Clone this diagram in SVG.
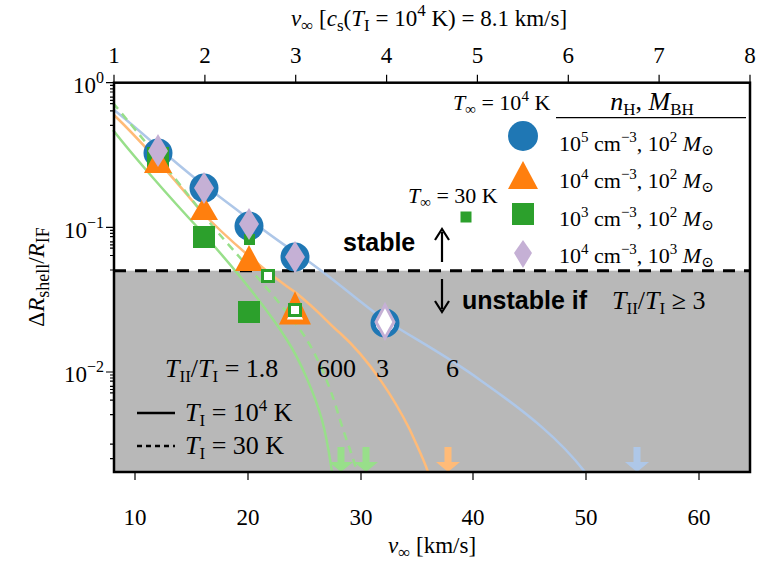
<svg xmlns="http://www.w3.org/2000/svg" width="763" height="564" viewBox="0 0 763 564">
<style>
.t{font-family:"Liberation Serif","DejaVu Serif",serif;font-size:23px;fill:#000}
.m{font-family:"Liberation Serif","DejaVu Serif",serif;font-size:22px;fill:#000}
.big{font-size:26px}
.i{font-style:italic}
.b{font-family:"Liberation Sans","DejaVu Sans",sans-serif;font-weight:bold;font-size:25px}
.ax{stroke:#000;stroke-width:1.2}
.curve{fill:none;stroke-width:2.5}
</style>
<rect width="763" height="564" fill="#fff"/>
<rect x="114" y="270.7" width="636" height="201.3" fill="#b8b8b8"/>
<g id="connectors">
<path class="curve" stroke="#aec7e8" d="M114,110 C140,130 180,168 204,185 C240,212 270,236 295,252 C330,275 360,303 385,320 C420,342 450,358 480,380 C530,415 560,440 585,472"/>
<path class="curve" stroke="#ffbb78" d="M114,115 C140,140 175,180 200,210 C225,237 270,275 295,292 C320,312 330,325 340,333 C370,360 395,400 410,430 C418,448 424,460 428,472"/>
<path class="curve" stroke="#98df8a" d="M113,130 C130,152 170,198 200,230 C225,258 265,305 287,340 C300,360 315,395 322,420 C328,442 330,460 332,472"/>
<path class="curve" stroke="#98df8a" stroke-dasharray="8,6" d="M113,103 C140,135 185,190 210,223 C230,248 285,305 307,340 C322,365 333,395 340,420 C348,445 354,460 357,472"/>
<g id="arrows">
<path fill="#98df8a" d="M337.5,447h7v15h8.5l-12,10l-12,-10h8.5z"/>
<path fill="#98df8a" d="M362.5,447h7v15h8.5l-12,10l-12,-10h8.5z"/>
<path fill="#ffbb78" d="M444.5,447h7v15h8.5l-12,10l-12,-10h8.5z"/>
<path fill="#aec7e8" d="M633.5,447h7v15h8.5l-12,10l-12,-10h8.5z"/>
</g>
<line x1="114" y1="270.7" x2="750" y2="270.7" stroke="#000" stroke-width="3" stroke-dasharray="12,9"/>
</g>
<g id="markers">
<g fill="#1f77b4"><circle cx="158" cy="153" r="14.5"/><circle cx="204" cy="188" r="14.5"/><circle cx="249" cy="226" r="14.5"/><circle cx="295" cy="257" r="14.5"/></g>
<circle cx="385" cy="323" r="12" fill="#fff" stroke="#1f77b4" stroke-width="5"/>
<g fill="#2ca02c"><rect x="147" y="147" width="22" height="22"/><rect x="193" y="226" width="22" height="22"/><rect x="238" y="301" width="22" height="22"/><rect x="244" y="234" width="11" height="11"/></g>
<g fill="#ff7f0e"><polygon points="158,147 144,173 172,173"/><polygon points="204,196 190,220 218,220"/><polygon points="249,245 235,271 263,271"/></g>
<polygon points="295,297 283,322 307,322" fill="#fff" stroke="#ff7f0e" stroke-width="5"/>
<rect x="262.5" y="270.5" width="11" height="11" fill="#fff" stroke="#2ca02c" stroke-width="3"/>
<rect x="289.5" y="304.5" width="11" height="11" fill="#fff" stroke="#2ca02c" stroke-width="3"/>
<g fill="#c5b0d5"><polygon points="158,134 168,151 158,167 148,151"/><polygon points="204,172 214,188 204,204 194,188"/><polygon points="249,208 259,224 249,240 239,224"/><polygon points="295,241 305,257 295,273 285,257"/></g>
<polygon points="385,305 394,322 385,338 376,322" fill="#fff" stroke="#c5b0d5" stroke-width="3"/>
</g>
<g id="legend">
<text class="m" x="453" y="110"><tspan class="i">T</tspan><tspan font-size="15" dy="4">∞</tspan><tspan dy="-4"> = 10</tspan><tspan font-size="15" dy="-9">4</tspan><tspan dy="9"> K</tspan></text>
<text class="t big" x="652" y="110" text-anchor="middle"><tspan class="i">n</tspan><tspan font-size="17" dy="5">H</tspan><tspan dy="-5">, </tspan><tspan class="i">M</tspan><tspan font-size="17" dy="5">BH</tspan></text>
<line x1="556" y1="117.7" x2="746" y2="117.7" stroke="#000" stroke-width="1.3"/>
<circle cx="523" cy="136" r="15" fill="#1f77b4"/>
<polygon points="523,161 508,189 538,189" fill="#ff7f0e"/>
<rect x="512" y="203" width="22" height="22" fill="#2ca02c"/>
<polygon points="523,240 532,253 523,268 514,253" fill="#c5b0d5"/>
<rect x="460.5" y="211.5" width="11" height="11" fill="#2ca02c"/>
<text class="m" x="408" y="203"><tspan class="i">T</tspan><tspan font-size="15" dy="4">∞</tspan><tspan dy="-4"> = 30 K</tspan></text>
<text class="m" x="559" y="151">10<tspan font-size="15" dy="-9">5</tspan><tspan dy="9"> cm</tspan><tspan font-size="15" dy="-9">−3</tspan><tspan dy="9">, 10</tspan><tspan font-size="15" dy="-9">2</tspan><tspan dy="9"> </tspan><tspan class="i">M</tspan><tspan font-size="15" dy="4">⊙</tspan></text>
<text class="m" x="559" y="188">10<tspan font-size="15" dy="-9">4</tspan><tspan dy="9"> cm</tspan><tspan font-size="15" dy="-9">−3</tspan><tspan dy="9">, 10</tspan><tspan font-size="15" dy="-9">2</tspan><tspan dy="9"> </tspan><tspan class="i">M</tspan><tspan font-size="15" dy="4">⊙</tspan></text>
<text class="m" x="559" y="226">10<tspan font-size="15" dy="-9">3</tspan><tspan dy="9"> cm</tspan><tspan font-size="15" dy="-9">−3</tspan><tspan dy="9">, 10</tspan><tspan font-size="15" dy="-9">2</tspan><tspan dy="9"> </tspan><tspan class="i">M</tspan><tspan font-size="15" dy="4">⊙</tspan></text>
<text class="m" x="559" y="263">10<tspan font-size="15" dy="-9">4</tspan><tspan dy="9"> cm</tspan><tspan font-size="15" dy="-9">−3</tspan><tspan dy="9">, 10</tspan><tspan font-size="15" dy="-9">3</tspan><tspan dy="9"> </tspan><tspan class="i">M</tspan><tspan font-size="15" dy="4">⊙</tspan></text>
</g>
<g id="annotations">
<text class="b" x="343" y="251">stable</text>
<text class="b" x="462" y="309">unstable if</text>
<path d="M442,262V232M435,240L442,229L449,240" fill="none" stroke="#000" stroke-width="2.2"/>
<path d="M442,279V309M435,301L442,312L449,301" fill="none" stroke="#000" stroke-width="2.2"/>
<text class="t big" x="612" y="309"><tspan class="i">T</tspan><tspan font-size="17" dy="5">II</tspan><tspan dy="-5">/</tspan><tspan class="i">T</tspan><tspan font-size="17" dy="5">I</tspan><tspan dy="-5"> ≥ 3</tspan></text>
<text class="t big" x="165" y="377"><tspan class="i">T</tspan><tspan font-size="17" dy="5">II</tspan><tspan dy="-5">/</tspan><tspan class="i">T</tspan><tspan font-size="17" dy="5">I</tspan><tspan dy="-5"> = 1.8</tspan></text>
<text class="t big" x="317" y="377">600</text>
<text class="t big" x="376" y="377">3</text>
<text class="t big" x="446" y="377">6</text>
<line x1="137" y1="413" x2="175" y2="413" stroke="#000" stroke-width="2.5"/>
<line x1="137" y1="446" x2="175" y2="446" stroke="#000" stroke-width="2.5" stroke-dasharray="5,4"/>
<text class="t big" x="185" y="421"><tspan class="i">T</tspan><tspan font-size="17" dy="5">I</tspan><tspan dy="-5"> = 10</tspan><tspan font-size="17" dy="-10">4</tspan><tspan dy="10"> K</tspan></text>
<text class="t big" x="185" y="454"><tspan class="i">T</tspan><tspan font-size="17" dy="5">I</tspan><tspan dy="-5"> = 30 K</tspan></text>
</g>
<g id="axes">
<rect x="114" y="82.7" width="636" height="389.3" fill="none" stroke="#000" stroke-width="2.5"/>
<g class="ax">
<path d="M135,472v8M248,472v8M361,472v8M473,472v8M586,472v8M699,472v8"/>
<path d="M114,82.7v-8M204.9,82.7v-8M295.7,82.7v-8M386.6,82.7v-8M477.4,82.7v-8M568.3,82.7v-8M659.1,82.7v-8M750,82.7v-8"/>
<path d="M114,82.7h-8M114,227.3h-8M114,372h-8"/>
<path d="M114,125.3h-4M114,110.9h-4M114,100.3h-4M114,92h-4M114,85.3h-4M114,97.2h-4M114,103.7h-4M114,88.8h-4
M114,270h-4M114,255.5h-4M114,244.9h-4M114,236.6h-4M114,230.3h-4M114,241.8h-4M114,248.2h-4M114,233.3h-4
M114,414.6h-4M114,400.1h-4M114,389.5h-4M114,381.2h-4M114,375h-4M114,386.4h-4M114,392.8h-4M114,378h-4
M114,444.1h-4M114,458.6h-4"/>
</g>
<g class="t" text-anchor="middle">
<text x="135" y="525">10</text><text x="248" y="525">20</text><text x="361" y="525">30</text><text x="473" y="525">40</text><text x="586" y="525">50</text><text x="699" y="525">60</text>
<text x="114" y="63">1</text><text x="204.9" y="63">2</text><text x="295.7" y="63">3</text><text x="386.6" y="63">4</text><text x="477.4" y="63">5</text><text x="568.3" y="63">6</text><text x="659.1" y="63">7</text><text x="750" y="63">8</text>
</g>
<g class="t" text-anchor="end">
<text x="104" y="93">10<tspan font-size="16" dy="-10">0</tspan></text>
<text x="104" y="238">10<tspan font-size="16" dy="-10">−1</tspan></text>
<text x="104" y="382">10<tspan font-size="16" dy="-10">−2</tspan></text>
</g>
<text class="t" font-size="27" x="432" y="553" text-anchor="middle"><tspan class="i">v</tspan><tspan font-size="17" dy="5">∞</tspan><tspan dy="-5"> [km/s]</tspan></text>
<text class="t" font-size="27" x="429" y="26" text-anchor="middle"><tspan class="i">v</tspan><tspan font-size="17" dy="5">∞</tspan><tspan dy="-5"> [</tspan><tspan class="i">c</tspan><tspan font-size="17" dy="5">s</tspan><tspan dy="-5">(</tspan><tspan class="i">T</tspan><tspan font-size="17" dy="5">I</tspan><tspan dy="-5"> = 10</tspan><tspan font-size="17" dy="-10">4</tspan><tspan dy="10"> K) = 8.1 km/s]</tspan></text>
<text class="t" font-size="28" transform="translate(44,277) rotate(-90)" text-anchor="middle">Δ<tspan class="i">R</tspan><tspan font-size="18" dy="5">shell</tspan><tspan dy="-5">/</tspan><tspan class="i">R</tspan><tspan font-size="18" dy="5">IF</tspan></text>
</g>
</svg>
